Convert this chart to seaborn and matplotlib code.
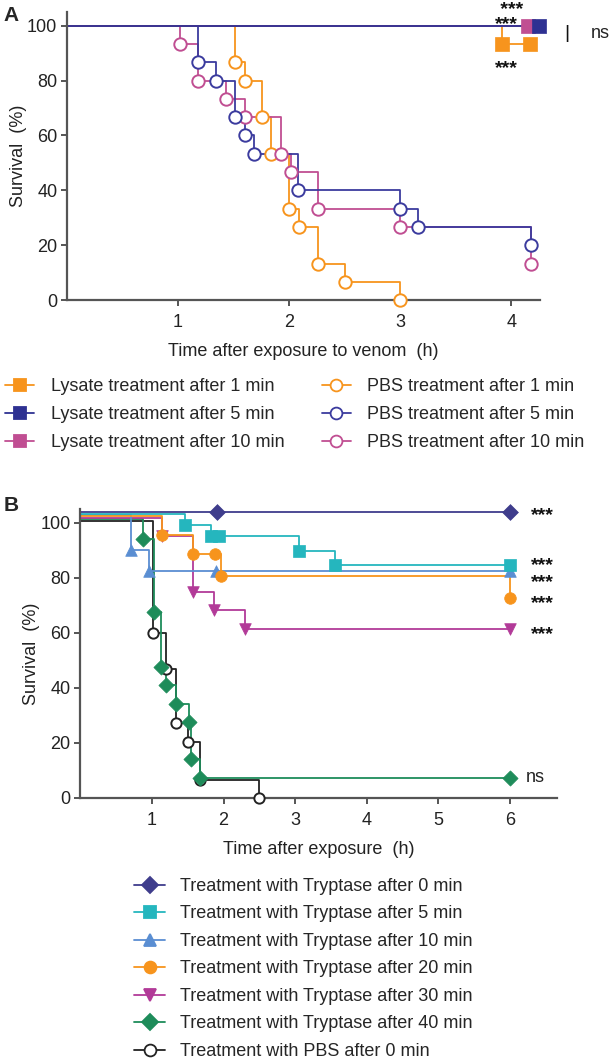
import matplotlib
matplotlib.use("Agg")
import pandas as pd
import matplotlib.pyplot as plt
from matplotlib.lines import Line2D
import seaborn as sns

# ---- Panel A: survival after venom, lysate vs PBS treatment (time h, survival %)
lys1_t = [0, 3.92, 4.17]
lys1_s = [100, 93.3, 93.3]
lys5_t = [0, 4.25]
lys5_s = [100, 100]
lys10_t = [0, 4.15]
lys10_s = [100, 100]
pbs1_t = [0, 1.51, 1.60, 1.76, 1.84, 2.00, 2.09, 2.26, 2.50, 3.00]
pbs1_s = [100, 86.7, 80, 66.7, 53.3, 33.3, 26.7, 13.3, 6.7, 0]
pbs5_t = [0, 1.18, 1.34, 1.51, 1.60, 1.68, 2.08, 3.00, 3.16, 4.18]
pbs5_s = [100, 86.7, 80, 66.7, 60, 53.3, 40, 33.3, 26.7, 20]
pbs10_t = [0, 1.02, 1.18, 1.43, 1.60, 1.93, 2.02, 2.26, 3.00, 4.18]
pbs10_s = [100, 93.3, 80, 73.3, 66.7, 53.3, 46.7, 33.3, 26.7, 13.3]

# ---- Panel B: survival after exposure, tryptase vs PBS
tr0_t = [0, 1.91, 6.0]
tr0_s = [100, 100, 100]
tr5_t = [0, 1.46, 1.83, 1.93, 3.06, 3.56, 6.0]
tr5_s = [100, 99.3, 95, 95, 89.9, 84.7, 84.7]
tr10_t = [0, 0.71, 0.96, 1.89, 6.0]
tr10_s = [100, 90.2, 82.3, 82.3, 82.3]
tr20_t = [0, 1.14, 1.58, 1.88, 1.96, 6.0]
tr20_s = [100, 95.4, 88.5, 88.5, 80.7, 72.8]
tr30_t = [0, 1.14, 1.58, 1.87, 2.30, 6.0]
tr30_s = [100, 95, 75, 68.4, 61.3, 61.3]
tr40_t = [0, 0.87, 1.03, 1.12, 1.19, 1.34, 1.52, 1.54, 1.67, 6.0]
tr40_s = [100, 94.1, 67.6, 47.6, 41.0, 34.3, 27.6, 14.1, 7.4, 7.4]
pbsb_t = [0, 1.02, 1.19, 1.34, 1.50, 1.67, 2.50]
pbsb_s = [100, 60, 46.7, 27.3, 20.4, 6.7, 0]

labels_a = ["Lysate treatment after 1 min", "Lysate treatment after 5 min",
            "Lysate treatment after 10 min", "PBS treatment after 1 min",
            "PBS treatment after 5 min", "PBS treatment after 10 min"]
labels_b = ["Treatment with Tryptase after 0 min", "Treatment with Tryptase after 5 min",
            "Treatment with Tryptase after 10 min", "Treatment with Tryptase after 20 min",
            "Treatment with Tryptase after 30 min", "Treatment with Tryptase after 40 min",
            "Treatment with PBS after 0 min"]

ORANGE = "#F7941D"
NAVY = "#2E3192"
PLUM = "#C04E92"
BLUE = "#3B3B9E"

# (times, survival, color, marker, hollow, marker size)
series_a = [
    (pbs1_t, pbs1_s, ORANGE, "o", True, 80),
    (pbs10_t, pbs10_s, PLUM, "o", True, 80),
    (pbs5_t, pbs5_s, BLUE, "o", True, 80),
    (lys1_t, lys1_s, ORANGE, "s", False, 95),
    (lys10_t, lys10_s, PLUM, "s", False, 95),
    (lys5_t, lys5_s, NAVY, "s", False, 95),
]
legend_a_style = [(ORANGE, "s", False), (NAVY, "s", False), (PLUM, "s", False),
                  (ORANGE, "o", True), (BLUE, "o", True), (PLUM, "o", True)]

# last value: small stagger of the 100% level so overlapping curves stay visible
series_b = [
    (pbsb_t, pbsb_s, "#222222", "o", True, 55, 0.8),
    (tr40_t, tr40_s, "#1E8C5A", "D", False, 60, 1.3),
    (tr30_t, tr30_s, "#B23A98", "v", False, 70, 1.8),
    (tr10_t, tr10_s, "#5A8ED2", "^", False, 70, 2.8),
    (tr20_t, tr20_s, ORANGE, "o", False, 70, 2.3),
    (tr5_t, tr5_s, "#25B6BE", "s", False, 70, 3.3),
    (tr0_t, tr0_s, "#3F3D8C", "D", False, 65, 4.0),
]
legend_b_style = [("#3F3D8C", "D", False), ("#25B6BE", "s", False), ("#5A8ED2", "^", False),
                  (ORANGE, "o", False), ("#B23A98", "v", False), ("#1E8C5A", "D", False),
                  ("#222222", "o", True)]

sns.set_style("ticks")
plt.rcParams["font.family"] = ["Liberation Sans", "DejaVu Sans"]
FS = 13
plt.rcParams["font.size"] = FS
TXT = "#222222"
SPINE = "#555555"

fig = plt.figure(figsize=(6.09, 10.61), dpi=100)
ax_a = fig.add_axes([0.110, 0.7172, 0.777, 0.2715])
ax_b = fig.add_axes([0.132, 0.2479, 0.7826, 0.2724])


def draw_curve(ax, t, s, color, marker, hollow, size, lift=0.0):
    df = pd.DataFrame({"time": t, "survival": s})
    df["shown"] = [v + lift if v >= 100 else v for v in df["survival"]]
    sns.lineplot(data=df, x="time", y="shown", ax=ax, color=color, lw=1.3,
                 drawstyle="steps-post", estimator=None, sort=False, legend=False)
    ev = df[df["time"] > 0]
    if hollow:
        sns.scatterplot(data=ev, x="time", y="shown", ax=ax, marker=marker, s=size,
                        color="white", edgecolor=color, linewidth=1.4,
                        clip_on=False, zorder=4, legend=False)
    else:
        sns.scatterplot(data=ev, x="time", y="shown", ax=ax, marker=marker, s=size,
                        color=color, edgecolor=color, linewidth=0.5,
                        clip_on=False, zorder=4, legend=False)


for t, s, c, m, h, sz in series_a:
    draw_curve(ax_a, t, s, c, m, h, sz)
for t, s, c, m, h, sz, lift in series_b:
    draw_curve(ax_b, t, s, c, m, h, sz, lift)


def style_axis(ax, xmax, xticks, xlabel):
    ax.set_xlim(0, xmax)
    ax.set_ylim(0, 105)
    ax.set_xticks(xticks)
    ax.set_yticks([0, 20, 40, 60, 80, 100])
    ax.set_xlabel(xlabel, color=TXT, fontsize=FS, labelpad=9)
    ax.set_ylabel("Survival  (%)", color=TXT, fontsize=FS, labelpad=0)
    sns.despine(ax=ax)
    for sp in ("left", "bottom"):
        ax.spines[sp].set_color(SPINE)
        ax.spines[sp].set_linewidth(1.6)
    ax.tick_params(axis="both", colors=SPINE, labelcolor=TXT, labelsize=FS,
                   length=4, width=1.4)
    ax.tick_params(axis="x", pad=6)
    ax.tick_params(axis="y", pad=3)


style_axis(ax_a, 4.26, [1, 2, 3, 4], "Time after exposure to venom  (h)")
style_axis(ax_b, 6.66, [1, 2, 3, 4, 5, 6], "Time after exposure  (h)")

# significance marks
star = dict(fontsize=14, fontweight="bold", color="#111111", clip_on=False)
ax_a.text(3.98, 108.6, " ***\n***", ha="center", va="top", linespacing=0.75,
          multialignment="left", **star)
ax_a.text(3.96, 84.5, "***", ha="center", va="center", **star)
ax_a.text(4.50, 97, "|", ha="center", va="center", fontsize=14, color="#111111", clip_on=False)
ax_a.text(4.72, 97, "ns", ha="left", va="center", fontsize=FS, color=TXT, clip_on=False)

ax_b.text(6.3, 102.6, "***", ha="left", va="center", **star)
ax_b.text(6.3, 81.3, "***\n***", ha="left", va="center", linespacing=0.95, **star)
ax_b.text(6.3, 70.6, "***", ha="left", va="center", **star)
ax_b.text(6.3, 59.4, "***", ha="left", va="center", **star)
ax_b.text(6.22, 7.4, "ns", ha="left", va="center", fontsize=FS, color=TXT, clip_on=False)

# panel letters
fig.text(0.006, 0.985, "A", fontsize=15, fontweight="bold", va="center")
fig.text(0.006, 0.524, "B", fontsize=15, fontweight="bold", va="center")


def handle(c, m, hollow):
    return Line2D([], [], color=c, lw=1.3, marker=m, markersize=8.5,
                  markerfacecolor="white" if hollow else c, markeredgecolor=c,
                  markeredgewidth=1.3)


fig.legend([handle(*st) for st in legend_a_style], labels_a, ncol=2,
           loc="upper left", bbox_to_anchor=(-0.006, 0.652), frameon=False,
           fontsize=FS, handlelength=1.6, handletextpad=0.9,
           columnspacing=2.1, labelspacing=0.6, borderpad=0.0)
fig.legend([handle(*st) for st in legend_b_style], labels_b, ncol=1,
           loc="upper left", bbox_to_anchor=(0.206, 0.181), frameon=False,
           fontsize=FS, handlelength=1.67, handletextpad=0.83,
           labelspacing=0.58, borderpad=0.0)

fig.savefig("out.png", dpi=100)
